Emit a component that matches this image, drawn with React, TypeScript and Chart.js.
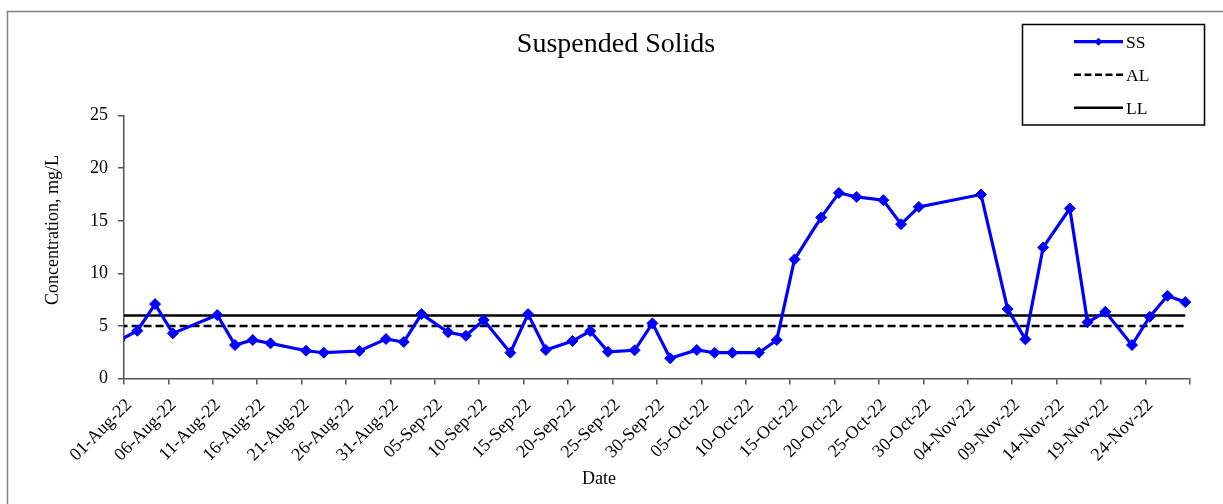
import React, { useEffect, useRef } from "react";
import { Chart, registerables } from "chart.js";

Chart.register(...registerables);

// ---------- data ----------
const AXIS_START = "2022-08-01";
const AXIS_END = "2022-11-29";

const sampleDates = [
  "2022-07-31", "2022-08-02", "2022-08-04", "2022-08-06", "2022-08-11", "2022-08-13",
  "2022-08-15", "2022-08-17", "2022-08-21", "2022-08-23", "2022-08-27", "2022-08-30",
  "2022-09-01", "2022-09-03", "2022-09-06", "2022-09-08", "2022-09-10", "2022-09-13",
  "2022-09-15", "2022-09-17", "2022-09-20", "2022-09-22", "2022-09-24", "2022-09-27",
  "2022-09-29", "2022-10-01", "2022-10-04", "2022-10-06", "2022-10-08", "2022-10-11",
  "2022-10-13", "2022-10-15", "2022-10-18", "2022-10-20", "2022-10-22", "2022-10-25",
  "2022-10-27", "2022-10-29", "2022-11-05", "2022-11-08", "2022-11-10", "2022-11-12",
  "2022-11-15", "2022-11-17", "2022-11-19", "2022-11-22", "2022-11-24", "2022-11-26",
  "2022-11-28",
];

const ssValues = [
  3.65, 4.55, 7.08, 4.3, 6.04, 3.19,
  3.67, 3.35, 2.65, 2.46, 2.62, 3.76,
  3.48, 6.13, 4.4, 4.07, 5.57, 2.46,
  6.13, 2.72, 3.57, 4.52, 2.55, 2.69,
  5.25, 1.93, 2.72, 2.46, 2.46, 2.46,
  3.67, 11.33, 15.32, 17.65, 17.27, 16.96,
  14.68, 16.32, 17.5, 6.61, 3.73, 12.47,
  16.17, 5.35, 6.35, 3.19, 5.88, 7.87,
  7.27,
];

const limitDates = ["2022-07-31", "2022-11-28"];
const alValues = [5, 5];
const llValues = [6, 6];

const tickLabels = [
  "01-Aug-22", "06-Aug-22", "11-Aug-22", "16-Aug-22", "21-Aug-22", "26-Aug-22",
  "31-Aug-22", "05-Sep-22", "10-Sep-22", "15-Sep-22", "20-Sep-22", "25-Sep-22",
  "30-Sep-22", "05-Oct-22", "10-Oct-22", "15-Oct-22", "20-Oct-22", "25-Oct-22",
  "30-Oct-22", "04-Nov-22", "09-Nov-22", "14-Nov-22", "19-Nov-22", "24-Nov-22",
];

const Y_MIN = 0;
const Y_MAX = 25;
const Y_STEP = 5;
const X_STEP_DAYS = 5;

// ---------- helpers ----------
const dayIndex = (iso: string) => {
  const [y, m, d] = iso.split("-").map(Number);
  const [y0, m0, d0] = AXIS_START.split("-").map(Number);
  return (Date.UTC(y, m - 1, d) - Date.UTC(y0, m0 - 1, d0)) / 86400000;
};
// Excel date axis: each day occupies a slot, point drawn in the slot centre
const slotCentre = (iso: string) => dayIndex(iso) + 0.5;

const SERIF = "'Liberation Serif', 'Times New Roman', serif";

const decorPlugin = {
  id: "decor",
  beforeDraw(chart: any) {
    const { ctx, width, height } = chart;
    ctx.save();
    ctx.fillStyle = "#ffffff";
    ctx.fillRect(0, 0, width, height);
    ctx.restore();
  },
  afterDraw(chart: any) {
    const { ctx } = chart;
    ctx.save();
    // outer frame
    ctx.strokeStyle = "#808080";
    ctx.lineWidth = 1.5;
    ctx.strokeRect(7.5, 11.5, 1240, 520);

    // title
    ctx.fillStyle = "#000";
    ctx.font = `28px ${SERIF}`;
    ctx.textAlign = "center";
    ctx.textBaseline = "alphabetic";
    ctx.fillText("Suspended Solids", 616, 51.5);

    // x title
    ctx.font = `18px ${SERIF}`;
    ctx.textAlign = "left";
    ctx.fillText("Date", 582, 484);

    // y title
    ctx.save();
    ctx.translate(58, 305);
    ctx.rotate(-Math.PI / 2);
    ctx.textAlign = "left";
    ctx.fillText("Concentration, mg/L", 0, 0);
    ctx.restore();

    // legend
    const bx = 1022.5, by = 24.5, bw = 182, bh = 100.5;
    ctx.fillStyle = "#fff";
    ctx.fillRect(bx, by, bw, bh);
    ctx.strokeStyle = "#000";
    ctx.lineWidth = 1.5;
    ctx.strokeRect(bx, by, bw, bh);

    chart.data.datasets.forEach((ds: any, i: number) => {
      const yy = 41.7 + i * 33;
      ctx.save();
      ctx.strokeStyle = ds.borderColor;
      ctx.lineWidth = ds.borderWidth;
      ctx.setLineDash(ds.borderDash ? [7, 3.5] : []);
      ctx.beginPath();
      ctx.moveTo(1074, yy);
      ctx.lineTo(1123, yy);
      ctx.stroke();
      ctx.restore();
      if (ds.pointRadius > 0) {
        ctx.save();
        ctx.fillStyle = ds.pointBackgroundColor;
        ctx.beginPath();
        const r = 4;
        ctx.moveTo(1098.5, yy - r);
        ctx.lineTo(1098.5 + r, yy);
        ctx.lineTo(1098.5, yy + r);
        ctx.lineTo(1098.5 - r, yy);
        ctx.closePath();
        ctx.fill();
        ctx.restore();
      }
      ctx.fillStyle = "#000";
      ctx.font = `17.5px ${SERIF}`;
      ctx.textAlign = "left";
      ctx.textBaseline = "alphabetic";
      ctx.fillText(ds.label, 1126, yy + 6);
    });
    ctx.restore();
  },
};

export default function App() {
  const canvasRef = useRef<HTMLCanvasElement | null>(null);

  useEffect(() => {
    const canvas = canvasRef.current;
    if (!canvas) return;
    const xMax = dayIndex(AXIS_END);

    const chart = new Chart(canvas, {
      type: "line",
      data: {
        datasets: [
          {
            label: "SS",
            data: sampleDates.map((d, i) => ({ x: slotCentre(d), y: ssValues[i] })),
            borderColor: "#0000ff",
            backgroundColor: "#0000ff",
            borderWidth: 3.2,
            pointStyle: "rectRot",
            pointRadius: 5.5,
            pointBackgroundColor: "#0000ff",
            pointBorderColor: "#0000ff",
            pointBorderWidth: 1,
            tension: 0,
            clip: { left: 0, right: 8, top: 8, bottom: 8 },
          },
          {
            label: "AL",
            data: limitDates.map((d, i) => ({ x: slotCentre(d), y: alValues[i] })),
            borderColor: "#000000",
            backgroundColor: "#000000",
            borderWidth: 2.6,
            borderDash: [8, 4],
            pointRadius: 0,
            tension: 0,
            clip: { left: 0, right: 8, top: 8, bottom: 8 },
          },
          {
            label: "LL",
            data: limitDates.map((d, i) => ({ x: slotCentre(d), y: llValues[i] })),
            borderColor: "#000000",
            backgroundColor: "#000000",
            borderWidth: 2.6,
            pointRadius: 0,
            tension: 0,
            clip: { left: 0, right: 8, top: 8, bottom: 8 },
          },
        ] as any,
      },
      options: {
        responsive: false,
        animation: false,
        events: [],
        layout: { padding: { top: 115.6, right: 33.3, left: 0, bottom: 0 } },
        plugins: {
          legend: { display: false },
          title: { display: false },
          tooltip: { enabled: false },
        },
        scales: {
          x: {
            type: "linear",
            min: 0,
            max: xMax,
            afterFit: (scale: any) => {
              scale.height = 504 - 378.6;
            },
            afterBuildTicks: (scale: any) => {
              const t: any[] = [];
              for (let v = 0; v <= xMax; v += X_STEP_DAYS) t.push({ value: v });
              scale.ticks = t;
            },
            grid: {
              display: true,
              drawOnChartArea: false,
              drawTicks: true,
              tickLength: 6,
              color: "#555",
              lineWidth: 1.5,
            },
            border: { display: true, color: "#555", width: 1.5 },
            ticks: {
              autoSkip: false,
              minRotation: 45,
              maxRotation: 45,
              padding: 10,
              labelOffset: 5,
              color: "#000",
              font: { family: SERIF, size: 18 },
              callback: (_v: any, i: number) => tickLabels[i] ?? "",
            },
          },
          y: {
            min: Y_MIN,
            max: Y_MAX,
            afterFit: (scale: any) => {
              scale.width = 124;
            },
            grid: {
              display: true,
              drawOnChartArea: false,
              drawTicks: true,
              tickLength: 6,
              color: "#555",
              lineWidth: 1.5,
            },
            border: { display: true, color: "#555", width: 1.5 },
            ticks: {
              stepSize: Y_STEP,
              padding: 10,
              color: "#000",
              font: { family: SERIF, size: 18 },
            },
          },
        },
      } as any,
      plugins: [decorPlugin],
    });

    return () => chart.destroy();
  }, []);

  return (
    <div style={{ position: "fixed", left: 0, top: 0, width: 1223, height: 504, background: "#fff" }}>
      <canvas ref={canvasRef} width={1223} height={504} style={{ width: 1223, height: 504, display: "block" }} />
    </div>
  );
}
